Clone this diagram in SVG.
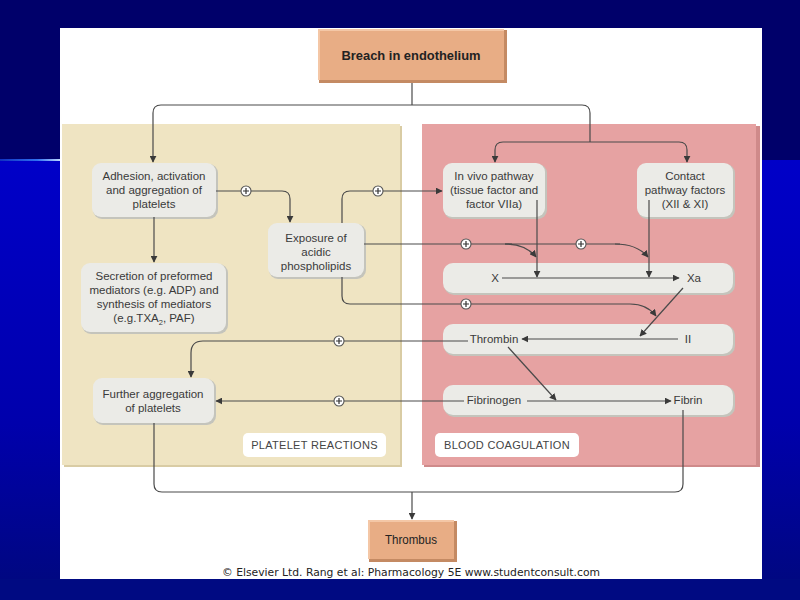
<svg xmlns="http://www.w3.org/2000/svg" width="800" height="600" viewBox="0 0 800 600">
<defs>
<linearGradient id="bgLow" x1="0" y1="0" x2="0" y2="1">
<stop offset="0" stop-color="#0000c8"/>
<stop offset="0.6" stop-color="#0000ac"/>
<stop offset="1" stop-color="#00087c"/>
</linearGradient>
<linearGradient id="lineGrad" x1="0" y1="0" x2="1" y2="0">
<stop offset="0" stop-color="#1030c0"/>
<stop offset="0.6" stop-color="#3070f0"/>
<stop offset="1" stop-color="#c8e0ff"/>
</linearGradient>
<marker id="arr" viewBox="0 0 10 10" refX="9" refY="5" markerWidth="7" markerHeight="7" markerUnits="userSpaceOnUse" orient="auto">
<path d="M0,0 L10,5 L0,10 z" fill="#3a3a3a"/>
</marker>
<g id="plus">
<circle r="5" fill="#ffffff" stroke="#555" stroke-width="1.1"/>
<path d="M-3,0 H3 M0,-3 V3" stroke="#333" stroke-width="1.2"/>
</g>
</defs>
<style>
.node rect.bx{fill:#ebebe7;}
.node rect.sh{fill:#c4c4bc;}
.t{font-family:"Liberation Sans",Arial,sans-serif;font-size:11.5px;fill:#3a3a3a;text-anchor:middle;}
.lbl{font-family:"Liberation Sans",Arial,sans-serif;font-size:11px;fill:#444;text-anchor:middle;letter-spacing:0.3px;}
.c{fill:none;stroke:#4a4a4a;stroke-width:1.2;}
.ca{fill:none;stroke:#4a4a4a;stroke-width:1.2;marker-end:url(#arr);}
.cond{font-family:"Liberation Sans Narrow","Liberation Sans",Arial,sans-serif;fill:#222;text-anchor:middle;}
</style>

<!-- background -->
<rect x="0" y="0" width="800" height="160" fill="#00006a"/>
<rect x="0" y="160" width="800" height="440" fill="url(#bgLow)"/>
<rect x="0" y="159" width="62" height="2" fill="url(#lineGrad)"/>
<rect x="0" y="579" width="800" height="21" fill="#000a82"/>
<rect x="60" y="28" width="702" height="551" fill="#ffffff"/>

<!-- panels -->
<g id="panel-platelet">
<rect x="64" y="126" width="338" height="341" fill="#d9cca4"/>
<rect x="62" y="124" width="338" height="341" fill="#efe4c2"/>
</g>
<g id="panel-coag">
<rect x="424" y="126" width="336" height="341" fill="#cf8a8a"/>
<rect x="422" y="124" width="334" height="341" fill="#e6a2a2"/>
</g>

<!-- nodes -->
<g id="breach">
<rect x="319" y="30" width="188" height="53" fill="#c48a63"/>
<rect x="318" y="29" width="186" height="51" fill="#f4c7a6"/>
<rect x="320" y="31" width="184" height="49" fill="#e8ad85"/>
<text class="cond" x="411" y="60" font-size="13" font-weight="bold" textLength="139" lengthAdjust="spacingAndGlyphs">Breach in endothelium</text>
</g>

<g id="adhesion" class="node">
<rect class="sh" x="93" y="164" width="125" height="55" rx="9"/>
<rect class="bx" x="92" y="163" width="124" height="54" rx="9"/>
<text class="t" x="154" y="180">Adhesion, activation</text>
<text class="t" x="154" y="194">and aggregation of</text>
<text class="t" x="154" y="208">platelets</text>
</g>

<g id="secretion" class="node">
<rect class="sh" x="82" y="264" width="146" height="70" rx="9"/>
<rect class="bx" x="81" y="263" width="145" height="69" rx="9"/>
<text class="t" x="154" y="280">Secretion of preformed</text>
<text class="t" x="154" y="294">mediators (e.g. ADP) and</text>
<text class="t" x="154" y="308">synthesis of mediators</text>
<text class="t" x="154" y="322">(e.g.TXA<tspan font-size="7.5" dy="3">2</tspan><tspan dy="-3">, PAF)</tspan></text>
</g>

<g id="further" class="node">
<rect class="sh" x="94" y="379" width="122" height="46" rx="9"/>
<rect class="bx" x="93" y="378" width="121" height="45" rx="9"/>
<text class="t" x="153" y="398">Further aggregation</text>
<text class="t" x="153" y="412">of platelets</text>
</g>

<g id="exposure" class="node">
<rect class="sh" x="269" y="224" width="97" height="55" rx="9"/>
<rect class="bx" x="268" y="223" width="96" height="54" rx="9"/>
<text class="t" x="316" y="242">Exposure of</text>
<text class="t" x="316" y="256">acidic</text>
<text class="t" x="316" y="270">phospholipids</text>
</g>

<g id="invivo" class="node">
<rect class="sh" x="444" y="164" width="103" height="55" rx="9"/>
<rect class="bx" x="443" y="163" width="102" height="54" rx="9"/>
<text class="t" x="494" y="180">In vivo pathway</text>
<text class="t" x="494" y="194">(tissue factor and</text>
<text class="t" x="494" y="208">factor VIIa)</text>
</g>

<g id="contact" class="node">
<rect class="sh" x="638" y="164" width="97" height="55" rx="9"/>
<rect class="bx" x="637" y="163" width="96" height="54" rx="9"/>
<text class="t" x="685" y="180">Contact</text>
<text class="t" x="685" y="194">pathway factors</text>
<text class="t" x="685" y="208">(XII &amp; XI)</text>
</g>

<g id="x-xa" class="node">
<rect class="sh" x="444" y="264" width="291" height="31" rx="10"/>
<rect class="bx" x="443" y="263" width="290" height="30" rx="10"/>
<text class="t" x="495" y="282">X</text>
<text class="t" x="694" y="282">Xa</text>
</g>

<g id="thrombin-row" class="node">
<rect class="sh" x="444" y="325" width="291" height="31" rx="10"/>
<rect class="bx" x="443" y="324" width="290" height="30" rx="10"/>
<text class="t" x="494" y="343">Thrombin</text>
<text class="t" x="688" y="343">II</text>
</g>

<g id="fibrin-row" class="node">
<rect class="sh" x="444" y="386" width="291" height="31" rx="10"/>
<rect class="bx" x="443" y="385" width="290" height="30" rx="10"/>
<text class="t" x="494" y="404">Fibrinogen</text>
<text class="t" x="688" y="404">Fibrin</text>
</g>

<g id="label-platelet">
<rect x="243" y="433" width="143" height="24" rx="5" fill="#ffffff"/>
<text class="lbl" x="314.5" y="449">PLATELET REACTIONS</text>
</g>

<g id="label-coag">
<rect x="435" y="433" width="144" height="24" rx="5" fill="#ffffff"/>
<text class="lbl" x="507" y="449">BLOOD COAGULATION</text>
</g>

<g id="thrombus">
<rect x="369" y="521" width="88" height="41" fill="#c48a63"/>
<rect x="368" y="520" width="86" height="39" fill="#f4c7a6"/>
<rect x="370" y="522" width="84" height="37" fill="#e8ad85"/>
<text class="cond" x="411" y="544" font-size="12" textLength="52" lengthAdjust="spacingAndGlyphs">Thrombus</text>
</g>

<!-- connectors -->
<g id="connectors">
<path class="c" d="M412,83 V105"/>
<path class="ca" d="M412,105 H161 Q153,105 153,113 V162"/>
<path class="c" d="M412,105 H582 Q590,105 590,113 V142"/>
<path class="ca" d="M590,142 H503 Q495,142 495,150 V162"/>
<path class="ca" d="M590,142 H679 Q687,142 687,150 V162"/>

<path class="ca" d="M154,217 V262"/>
<path class="ca" d="M216,191 H282 Q290,191 290,199 V222"/>
<path class="ca" d="M342,223 V199 Q342,191 350,191 H442"/>

<path class="c" d="M364,244 H512"/>
<path class="ca" d="M505,244 Q526,244 536,257"/>
<path class="c" d="M505,244 H620"/>
<path class="ca" d="M615,244 Q637,244 648,257"/>

<path class="ca" d="M537,200 V277"/>
<path class="ca" d="M649,200 V277"/>
<path class="ca" d="M502,278 H679"/>
<path class="ca" d="M683,288 L640,336"/>

<path class="ca" d="M342,277 V296 Q342,304 350,304 H630 Q647,304 656,316"/>

<path class="ca" d="M678,339 H522"/>
<path class="ca" d="M468,341 H203 Q191,341 191,353 V377"/>
<path class="ca" d="M508,347 L556,400"/>
<path class="ca" d="M527,401 H671"/>
<path class="ca" d="M464,401 H216"/>

<path class="c" d="M154,423 V484 Q154,492 162,492 H675 Q683,492 683,484 V410"/>
<path class="ca" d="M412,492 V519"/>

<use href="#plus" x="246" y="191"/>
<use href="#plus" x="378" y="191"/>
<use href="#plus" x="466" y="244"/>
<use href="#plus" x="581" y="244"/>
<use href="#plus" x="466" y="304"/>
<use href="#plus" x="339" y="341"/>
<use href="#plus" x="339" y="401"/>
</g>

<text x="411" y="576" font-family="DejaVu Sans Condensed, DejaVu Sans, sans-serif" font-size="11" fill="#222" text-anchor="middle" textLength="378" lengthAdjust="spacingAndGlyphs">© Elsevier Ltd. Rang et al: Pharmacology 5E www.studentconsult.com</text>
</svg>
